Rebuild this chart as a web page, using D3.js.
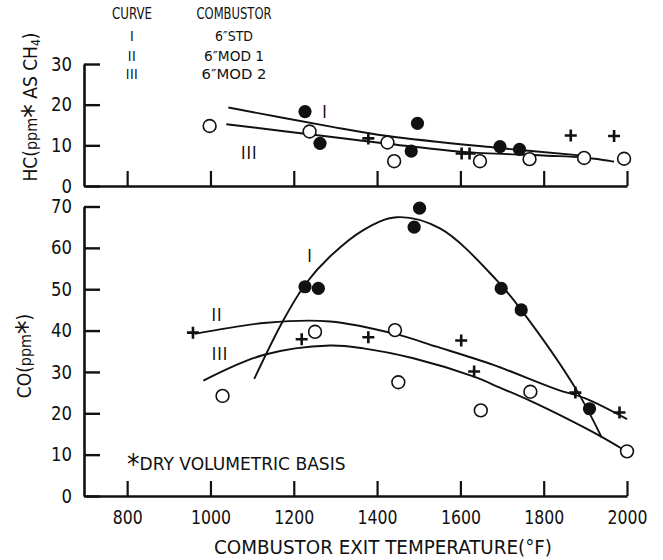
<!DOCTYPE html>
<html>
<head>
<meta charset="utf-8">
<script src="https://cdn.jsdelivr.net/npm/d3@7"></script>
<style>
  html, body { margin: 0; padding: 0; background: #fff; }
  svg text { font-family: "DejaVu Sans Condensed", "DejaVu Sans", sans-serif; font-stretch: condensed; fill: #111; }
</style>
</head>
<body>
<svg id="chart" width="663" height="560"></svg>
<script>
// Temperature axis ticks (°F)
const tempTicks = [800, 1000, 1200, 1400, 1600, 1800, 2000];
const hcTicks = [0, 10, 20, 30];
const coTicks = [0, 10, 20, 30, 40, 50, 60, 70];

// Legend rows
const curveNames = ["I", "II", "III"];
const combustorNames = ["6\u2033STD", "6\u2033MOD 1", "6\u2033MOD 2"];

// HC measurements [temperature, ppm]
const hcStd  = [[1227, 18.3], [1263, 10.5], [1482, 8.6], [1497, 15.4], [1695, 9.7], [1742, 9.0]];
const hcMod1 = [[1379, 11.7], [1603, 8.0], [1622, 8.0], [1865, 12.4], [1969, 12.3]];
const hcMod2 = [[998, 14.75], [1238, 13.4], [1425, 10.7], [1441, 6.1], [1647, 6.1], [1766, 6.6], [1897, 6.9], [1993, 6.7]];

// HC fitted curves
const hcCurveI   = [[1043, 19.3], [1289, 14.6], [1425, 12.3], [1687, 9.4], [1900, 7.4]];
const hcCurveIII = [[1038, 15.2], [1287, 12.1], [1425, 10.4], [1607, 8.4], [1800, 7.5], [1897, 7.0], [1969, 6.0]];

// CO measurements [temperature, ppm]
const coStd  = [[1227, 50.6], [1259, 50.2], [1489, 65.0], [1502, 69.6], [1698, 50.2], [1746, 45.0], [1910, 21.1]];
const coMod1 = [[958, 39.5], [1219, 37.9], [1379, 38.4], [1602, 37.6], [1633, 30.1], [1876, 25.0], [1982, 20.2]];
const coMod2 = [[1029, 24.2], [1251, 39.7], [1443, 40.1], [1451, 27.5], [1649, 20.7], [1768, 25.2], [2000, 10.8]];

// CO fitted curves
const coCurveI   = [[1105, 28.3], [1175, 42.5], [1230, 51.5], [1287, 57.9], [1367, 64.3], [1447, 67.4], [1551, 64.7], [1687, 52.2], [1746, 45.0], [1879, 25.6], [1939, 14.2]];
const coCurveII  = [[962, 39.2], [1135, 41.9], [1287, 42.2], [1443, 39.2], [1543, 36.1], [1679, 31.7], [1831, 25.8], [1900, 23.6], [2000, 18.6]];
const coCurveIII = [[983, 27.9], [1127, 34.1], [1287, 36.4], [1367, 35.7], [1487, 33.3], [1631, 28.9], [1695, 26.2], [1768, 23.0], [1850, 19.0], [1939, 14.3], [1990, 11.3]];

// Curve label anchors [temperature, ppm, text]
const hcCurveLabels = [[1275, 18.2, "I"], [1093, 8.1, "III"]];
const coCurveLabels = [[1239, 58, "I"], [1016, 43.8, "II"], [1023, 34.3, "III"]];

const svg = d3.select("#chart");
const ink = "#111";

const x = d3.scaleLinear().domain([700, 2000]).range([85.5, 627]);
const yHC = d3.scaleLinear().domain([0, 30]).range([186, 64]);
const yCO = d3.scaleLinear().domain([0, 70]).range([496, 206.5]);

function fitText(sel, perChar) {
  sel.each(function () {
    const t = d3.select(this);
    const n = t.text().length;
    if (n > 0) t.attr("textLength", n * perChar).attr("lengthAdjust", "spacingAndGlyphs");
  });
}

function drawAxes(y, ticks, yBase, showLabels) {
  const gy = svg.append("g").attr("transform", "translate(84,0)")
    .call(d3.axisLeft(y).tickValues(ticks).tickSizeInner(-16).tickSizeOuter(0).tickPadding(12));
  gy.select(".domain").attr("stroke", ink).attr("stroke-width", 2.6);
  gy.selectAll(".tick line").attr("stroke", ink).attr("stroke-width", 2.4);
  gy.selectAll(".tick text").attr("font-size", 19).attr("fill", ink).attr("x", -12);
  fitText(gy.selectAll(".tick text"), 10.5);

  const gx = svg.append("g").attr("transform", `translate(0,${yBase})`)
    .call(d3.axisBottom(x).tickValues(tempTicks).tickSizeInner(-15).tickSizeOuter(0)
      .tickFormat(showLabels ? d3.format("d") : () => ""));
  gx.select(".domain").attr("stroke", ink).attr("stroke-width", 2.6);
  gx.selectAll(".tick line").attr("stroke", ink).attr("stroke-width", 2.2);
  if (showLabels) {
    gx.selectAll(".tick text").attr("font-size", 19).attr("fill", ink).attr("y", 15).attr("dy", "0.71em");
    fitText(gx.selectAll(".tick text"), 10);
  }
}

function drawCurve(data, y) {
  svg.append("path")
    .datum(data)
    .attr("fill", "none")
    .attr("stroke", ink)
    .attr("stroke-width", 1.9)
    .attr("d", d3.line().x(d => x(d[0])).y(d => y(d[1])).curve(d3.curveCatmullRom.alpha(0.5)));
}

function drawFilled(data, y) {
  svg.append("g").selectAll("circle").data(data).join("circle")
    .attr("cx", d => x(d[0])).attr("cy", d => y(d[1])).attr("r", 6.6).attr("fill", ink);
}
function drawOpen(data, y) {
  svg.append("g").selectAll("circle").data(data).join("circle")
    .attr("cx", d => x(d[0])).attr("cy", d => y(d[1])).attr("r", 6.4)
    .attr("fill", "#fff").attr("stroke", ink).attr("stroke-width", 1.6);
}
function drawPlus(data, y) {
  svg.append("g").selectAll("path").data(data).join("path")
    .attr("transform", d => `translate(${x(d[0])},${y(d[1])})`)
    .attr("d", "M-6,0H6M0,-6V6")
    .attr("stroke", ink).attr("stroke-width", 2.6).attr("fill", "none");
}

function drawCurveLabels(labels, y) {
  svg.append("g").selectAll("text").data(labels).join("text")
    .attr("x", d => x(d[0])).attr("y", d => y(d[1]))
    .attr("dy", "0.35em").attr("text-anchor", "middle")
    .attr("font-size", 17).attr("letter-spacing", 1)
    .text(d => d[2]);
}

// ---- HC panel ----
drawAxes(yHC, hcTicks, 186, false);
drawCurve(hcCurveI, yHC);
drawCurve(hcCurveIII, yHC);
drawOpen(hcMod2, yHC);
drawFilled(hcStd, yHC);
drawPlus(hcMod1, yHC);
drawCurveLabels(hcCurveLabels, yHC);

// ---- CO panel ----
drawAxes(yCO, coTicks, 496, true);
drawCurve(coCurveI, yCO);
drawCurve(coCurveII, yCO);
drawCurve(coCurveIII, yCO);
drawOpen(coMod2, yCO);
drawFilled(coStd, yCO);
drawPlus(coMod1, yCO);
drawCurveLabels(coCurveLabels, yCO);

// ---- Legend block ----
svg.append("text").attr("x", 132).attr("y", 14).attr("dy", "0.35em").attr("text-anchor", "middle")
  .attr("font-size", 15).attr("textLength", 40).attr("lengthAdjust", "spacingAndGlyphs").text("CURVE");
svg.append("text").attr("x", 234).attr("y", 14).attr("dy", "0.35em").attr("text-anchor", "middle")
  .attr("font-size", 15).attr("textLength", 75).attr("lengthAdjust", "spacingAndGlyphs").text("COMBUSTOR");
const legendY = [36, 56, 74];
const combWidths = [38, 60, 65];
curveNames.forEach((c, i) => {
  svg.append("text").attr("x", 132).attr("y", legendY[i]).attr("dy", "0.35em").attr("text-anchor", "middle")
    .attr("font-size", 14).attr("letter-spacing", 0.5).text(c);
  svg.append("text").attr("x", 234).attr("y", legendY[i]).attr("dy", "0.35em").attr("text-anchor", "middle")
    .attr("font-size", 14).attr("textLength", combWidths[i]).attr("lengthAdjust", "spacingAndGlyphs").text(combustorNames[i]);
});

// ---- Axis titles ----
const hcTitle = svg.append("text")
  .attr("transform", "translate(37,107) rotate(-90)")
  .attr("text-anchor", "middle").attr("font-size", 19);
hcTitle.append("tspan").text("HC(");
hcTitle.append("tspan").attr("font-size", 16).text("ppm");
hcTitle.append("tspan").attr("font-size", 30).attr("dy", 6).text("*");
hcTitle.append("tspan").attr("dy", -6).text(" AS CH");
hcTitle.append("tspan").attr("font-size", 12).attr("dy", 3).text("4");
hcTitle.append("tspan").attr("dy", -3).text(")");

const coTitle = svg.append("text")
  .attr("transform", "translate(31,356) rotate(-90)")
  .attr("text-anchor", "middle").attr("font-size", 19);
coTitle.append("tspan").text("CO(");
coTitle.append("tspan").attr("font-size", 16).text("ppm");
coTitle.append("tspan").attr("font-size", 30).attr("dy", 6).text("*");
coTitle.append("tspan").attr("dy", -6).text(")");

// Footnote
const note = svg.append("text").attr("x", 127).attr("y", 470).attr("font-size", 17);
note.append("tspan").attr("font-size", 28).attr("dy", 4).text("*");
note.append("tspan").attr("dy", -4).attr("textLength", 206).attr("lengthAdjust", "spacingAndGlyphs").text("DRY VOLUMETRIC BASIS");

// X axis title
svg.append("text").attr("x", 383).attr("y", 547).attr("dy", "0.35em").attr("text-anchor", "middle")
  .attr("font-size", 19).attr("textLength", 338).attr("lengthAdjust", "spacingAndGlyphs")
  .text("COMBUSTOR EXIT TEMPERATURE(\u00b0F)");
</script>
</body>
</html>
